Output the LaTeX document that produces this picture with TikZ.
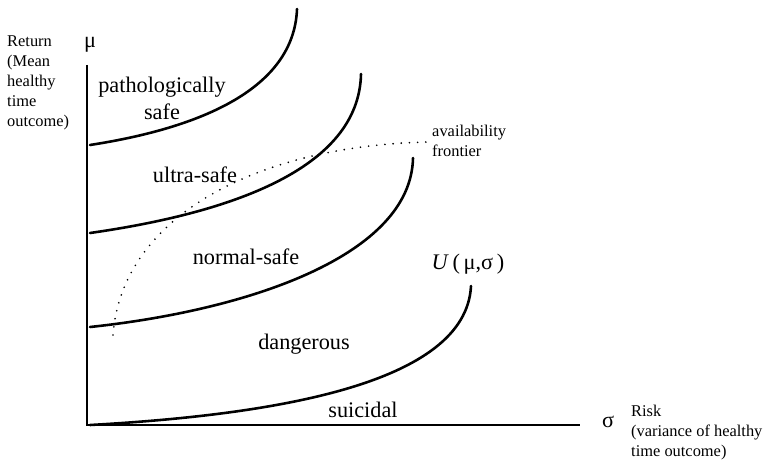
\documentclass[tikz,border=0pt]{standalone}
\usepackage{fontspec}
\setmainfont{Liberation Serif}
\usetikzlibrary{calc}

\begin{document}
\begin{tikzpicture}[x=0.03cm, y=-0.03cm,
    curve/.style={line width=2.2pt, line cap=round},
    axis/.style={line width=1.6pt},
    region/.style={font=\fontsize{19}{23}\selectfont},
    note/.style={font=\fontsize{14}{17}\selectfont, align=left, anchor=north west, inner sep=0pt}]
    \useasboundingbox (0,0) rectangle (768,460);

    % Draw axes
    \coordinate (o) at (87, 425);
    \coordinate (ytop) at (87, 65);
    \coordinate (xend) at (580, 425);
    \draw[axis] (ytop) -- (o) -- (xend);

    \node[region] (mu) at (90, 45) {μ};
    \node[region] (sigma) at (608, 422) {σ};
    \node[note] (ret) at (7, 36) {Return\\(Mean\\healthy\\time\\outcome)};
    \node[note] (risk) at (631, 405) {Risk\\(variance of healthy\\time outcome)};

    % Draw indifference curves
    \draw[curve] (90,145) .. controls (200,128) and (294,89) .. (297,9);
    \draw[curve] (90,233) .. controls (230,213) and (359,169) .. (361,74);
    \draw[curve] (90,327) .. controls (250,310) and (411,255) .. (413,158);
    \draw[curve] (90,425) .. controls (270,415) and (466,385) .. (471,286);

    % Draw availability frontier
    \draw[line width=1.6pt, line cap=round, dash pattern=on 0pt off 7pt]
        (113,335) .. controls (122,215) and (260,145) .. (430,142);
    \node[note] (frontier) at (432, 125) {availability\\frontier};

    % Draw region labels
    \node[region, align=center] (patho) at (162, 98) {pathologically\\safe};
    \node[region] (ultra) at (195, 175) {ultra-safe};
    \node[region] (normal) at (246, 257) {normal-safe};
    \node[region] (util) at (468, 264) {\textit{U}\,(\,μ,σ\,)};
    \node[region] (danger) at (304, 344) {dangerous};
    \node[region] (suicide) at (363, 410) {suicidal};
\end{tikzpicture}
\end{document}
